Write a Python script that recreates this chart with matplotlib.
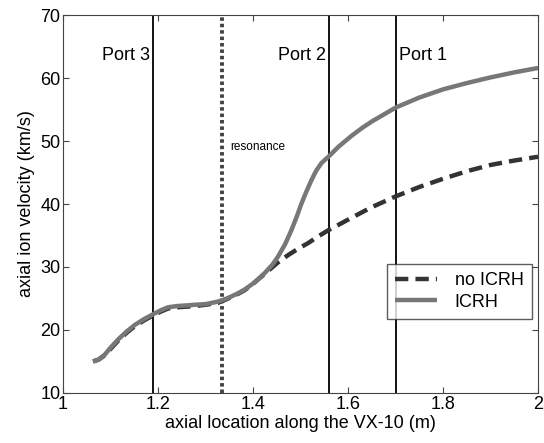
import matplotlib
matplotlib.use("Agg")
import matplotlib.pyplot as plt
import numpy as np

plt.rcParams['font.family'] = ['Liberation Sans', 'DejaVu Sans']

# curve samples
x_icrh = [1.063, 1.075, 1.088, 1.100, 1.116, 1.133, 1.151, 1.170, 1.187, 1.205, 1.221, 1.240,
          1.260, 1.277, 1.300, 1.326, 1.345, 1.365, 1.382, 1.404, 1.424, 1.440, 1.453, 1.468,
          1.481, 1.492, 1.502, 1.513, 1.523, 1.533, 1.544, 1.560, 1.580, 1.607, 1.63, 1.65,
          1.675, 1.70, 1.75, 1.80, 1.85, 1.90, 1.95, 2.0]
v_icrh = [15.0, 15.3, 16.1, 17.2, 18.5, 19.7, 20.8, 21.7, 22.4, 23.1, 23.6, 23.8,
          23.9, 24.0, 24.1, 24.5, 25.0, 25.7, 26.4, 27.6, 29.0, 30.3, 31.7, 33.7,
          35.9, 38.0, 40.1, 42.1, 43.8, 45.3, 46.5, 47.6, 49.1, 50.8, 52.1, 53.1,
          54.2, 55.3, 56.9, 58.2, 59.2, 60.1, 60.9, 61.6]

x_noicrh = [1.063, 1.075, 1.088, 1.100, 1.116, 1.133, 1.151, 1.170, 1.187, 1.205, 1.221, 1.240,
            1.260, 1.277, 1.300, 1.326, 1.345, 1.365, 1.382, 1.404, 1.432, 1.452, 1.474,
            1.495, 1.516, 1.538, 1.560, 1.585, 1.607, 1.65, 1.70, 1.75, 1.80, 1.85, 1.90,
            1.95, 2.0]
v_noicrh = [15.0, 15.3, 16.0, 17.0, 18.3, 19.5, 20.6, 21.5, 22.2, 22.9, 23.4, 23.6,
            23.7, 23.8, 24.0, 24.3, 24.9, 25.6, 26.3, 27.6, 29.4, 30.7, 31.9,
            32.9, 33.8, 34.9, 35.9, 36.9, 37.8, 39.5, 41.2, 42.7, 44.0, 45.2, 46.2,
            46.9, 47.5]

ports = [1.189, 1.56, 1.70]
port_names = ['Port 3', 'Port 2', 'Port 1']
resonance_x = 1.335

fig = plt.figure(figsize=(5.44, 4.43), dpi=100)
ax = fig.add_axes([0.116, 0.113, 0.873, 0.853])

ax.plot(x_noicrh, v_noicrh, color='#333333', lw=3.2, ls=(0, (3, 1.6)), label='no ICRH',
        zorder=3, dash_joinstyle='round')
ax.plot(x_icrh, v_icrh, color='#777777', lw=3.2, label='ICRH', zorder=4,
        solid_joinstyle='round', solid_capstyle='butt')

for p in ports:
    ax.axvline(p, color='black', lw=1.3, zorder=2)
ax.axvline(resonance_x, color='#444444', lw=2.8, ls=(0, (0.9, 0.75)), zorder=2)

ax.text(1.183, 63.5, port_names[0], ha='right', va='center', fontsize=13)
ax.text(1.554, 63.5, port_names[1], ha='right', va='center', fontsize=13)
ax.text(1.707, 63.5, port_names[2], ha='left', va='center', fontsize=13)
ax.text(1.352, 49.1, 'resonance', ha='left', va='center', fontsize=8.5)

ax.set_xlim(1, 2)
ax.set_ylim(10, 70)
ax.set_xticks([1, 1.2, 1.4, 1.6, 1.8, 2])
ax.set_xticklabels(['1', '1.2', '1.4', '1.6', '1.8', '2'])
ax.set_yticks(np.arange(10, 71, 10))
ax.tick_params(direction='in', top=True, right=True, labelsize=13, length=4,
               color='#444444', pad=2)
for s in ax.spines.values():
    s.set_color('#444444')
ax.set_xlabel('axial location along the VX-10 (m)', fontsize=13, labelpad=2)
ax.set_ylabel('axial ion velocity (km/s)', fontsize=13, labelpad=4)

leg = ax.legend(loc='lower right', bbox_to_anchor=(0.987, 0.196), fontsize=13,
                frameon=True, fancybox=False, edgecolor='#333333', handlelength=2.3,
                handletextpad=1.0, borderpad=0.45, labelspacing=0.25, borderaxespad=0)
leg.get_frame().set_linewidth(1)

fig.savefig('out.png', dpi=100)
